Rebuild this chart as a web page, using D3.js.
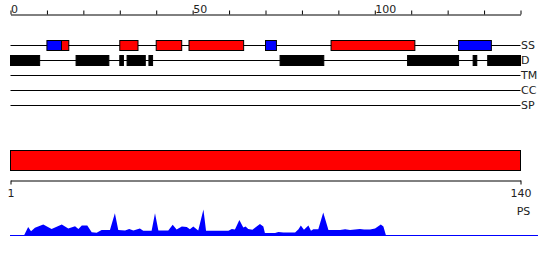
<!DOCTYPE html>
<html>
<head>
<meta charset="utf-8">
<script src="https://cdn.jsdelivr.net/npm/d3@7"></script>
<style>
  body { margin: 0; background: #fff; }
  svg text { font-family: "DejaVu Sans", sans-serif; font-size: 11px; fill: #222; }
</style>
</head>
<body>
<svg id="chart" width="550" height="260"></svg>
<script>
// sequence length and feature tracks
var seqLength = 140;
var tracks = ["SS", "D", "TM", "CC", "SP"];
var topTicks = [0, 10, 20, 30, 40, 50, 60, 70, 80, 90, 100, 110, 120, 130, 140];
var topLabels = [0, 50, 100];

// secondary structure: H = helix, E = strand
var ssStart = [10, 14, 30, 40, 49, 70, 88, 123];
var ssEnd   = [14, 16, 35, 47, 64, 73, 111, 132];
var ssType  = ["E", "H", "H", "H", "H", "E", "H", "E"];

// disordered regions
var disStart = [0, 18, 30, 32, 38, 74, 109, 127, 131];
var disEnd   = [8, 27, 31, 37, 39, 86, 123, 128, 140];

// PS profile (residue, score)
var psPos = [1, 2.6, 3.7, 5.2, 8.4, 11.6, 15.5, 18, 20.6, 21.9, 23.2, 25.3, 27, 28.9, 30.8, 34, 35.9, 37.2,
	     39.8, 41.4, 43, 45.5, 46.8, 50, 51.3, 52.6, 56.4, 58.1, 59.6, 61.6, 63.5, 64.7, 66, 67.9, 69.9, 70.9,
	     79.5, 80.8, 82, 83.7, 85.2, 86.1, 87.1, 88.7, 91.6, 92.9, 93.5, 97.4, 98.7, 100.6, 105.1, 106.4, 107.3,
	     108.5, 110.2, 111.2, 112.1, 114, 115.9, 117.9, 122.4, 124.3, 126.2, 130, 131.6, 133.9, 135.8, 138, 139, 140];
var psVal = [0, 0.28, 0.14, 0.26, 0.37, 0.22, 0.37, 0.23, 0.31, 0.22, 0.33, 0.33, 0.11, 0.09, 0.18, 0.18, 0.74, 0.18,
	     0.17, 0.22, 0.17, 0.23, 0.16, 0.16, 0.74, 0.17, 0.17, 0.36, 0.2, 0.3, 0.28, 0.21, 0.3, 0.17, 0.87, 0.16,
	     0.16, 0.22, 0.2, 0.52, 0.27, 0.3, 0.22, 0.19, 0.38, 0.3, 0.08, 0.08, 0.12, 0.1, 0.1, 0.21, 0.33,
	     0.19, 0.33, 0.16, 0.21, 0.21, 0.77, 0.18, 0.18, 0.21, 0.18, 0.22, 0.2, 0.2, 0.23, 0.37, 0.3, 0];

var ssColor = { H: "#ff0000", E: "#0000ff" };

var svg = d3.select("#chart");

var x = d3.scaleLinear().domain([0, seqLength]).range([10.5, 520.5]);
var yTrack = d3.scalePoint().domain(tracks).range([45.5, 105.5]);

// top ruler
var topAxis = d3.axisTop(x).tickValues(topTicks).tickSize(4).tickSizeOuter(0)
    .tickFormat(function(d){ return topLabels.indexOf(d) >= 0 ? d : ""; });
var gTop = svg.append("g").attr("transform", "translate(0,14.5)").call(topAxis);
gTop.select(".domain").attr("stroke", "#000");
gTop.selectAll(".tick line").attr("stroke", "#000");
gTop.selectAll(".tick text").attr("text-anchor", "start").attr("dy", "0.1em").attr("y", -3)
    .style("font-size", "11px").style("font-family", "DejaVu Sans, sans-serif").attr("fill", "#222");

// track lines + names
var gTracks = svg.append("g");
gTracks.selectAll("line").data(tracks).join("line")
    .attr("x1", x(0)).attr("x2", x(seqLength))
    .attr("y1", function(d){ return yTrack(d); })
    .attr("y2", function(d){ return yTrack(d); })
    .attr("stroke", "#000");
gTracks.selectAll("text").data(tracks).join("text")
    .attr("x", x(seqLength) + 0.5)
    .attr("y", function(d){ return yTrack(d); })
    .attr("dy", "0.36em")
    .text(function(d){ return d; });

// secondary structure boxes
var ss = ssStart.map(function(s, i){ return { start: s, end: ssEnd[i], type: ssType[i] }; });
svg.append("g").selectAll("rect").data(ss).join("rect")
    .attr("x", function(d){ return x(d.start); })
    .attr("width", function(d){ return x(d.end) - x(d.start); })
    .attr("y", yTrack("SS") - 5)
    .attr("height", 10)
    .attr("fill", function(d){ return ssColor[d.type]; })
    .attr("stroke", "#000");

// disorder boxes
var dis = disStart.map(function(s, i){ return { start: s, end: disEnd[i] }; });
svg.append("g").selectAll("rect").data(dis).join("rect")
    .attr("x", function(d){ return x(d.start); })
    .attr("width", function(d){ return x(d.end) - x(d.start); })
    .attr("y", yTrack("D") - 5)
    .attr("height", 10)
    .attr("fill", "#000")
    .attr("stroke", "#000");

// whole-sequence bar and its ruler
var xSeq = d3.scaleLinear().domain([1, seqLength]).range([10.5, 520.5]);
svg.append("rect")
    .attr("x", xSeq(1)).attr("width", xSeq(seqLength) - xSeq(1))
    .attr("y", 150.5).attr("height", 20)
    .attr("fill", "#ff0000").attr("stroke", "#000");

var seqAxis = d3.axisBottom(xSeq).tickValues([1, seqLength]).tickSize(4).tickSizeOuter(0);
var gSeq = svg.append("g").attr("transform", "translate(0,180.5)").call(seqAxis);
gSeq.select(".domain").attr("stroke", "#000");
gSeq.selectAll(".tick line").attr("stroke", "#000");
gSeq.selectAll(".tick text").attr("y", 9)
    .style("font-size", "11px").style("font-family", "DejaVu Sans, sans-serif").attr("fill", "#222");

svg.append("text").attr("x", 523.5).attr("y", 215).attr("text-anchor", "middle").text("PS");

// PS profile
var xPs = d3.scaleLinear().domain([1, seqLength]).range([24, 386]);
var yPs = d3.scaleLinear().domain([0, 1]).range([235.5, 205.5]);
var ps = psPos.map(function(p, i){ return { pos: p, val: psVal[i] }; });

svg.append("line")
    .attr("x1", 10).attr("x2", 538)
    .attr("y1", yPs(0)).attr("y2", yPs(0))
    .attr("stroke", "#0000ff");

svg.append("path").datum(ps)
    .attr("fill", "#0000ff")
    .attr("d", d3.area()
	  .x(function(d){ return xPs(d.pos); })
	  .y0(yPs(0))
	  .y1(function(d){ return yPs(d.val); }));
</script>
</body>
</html>
